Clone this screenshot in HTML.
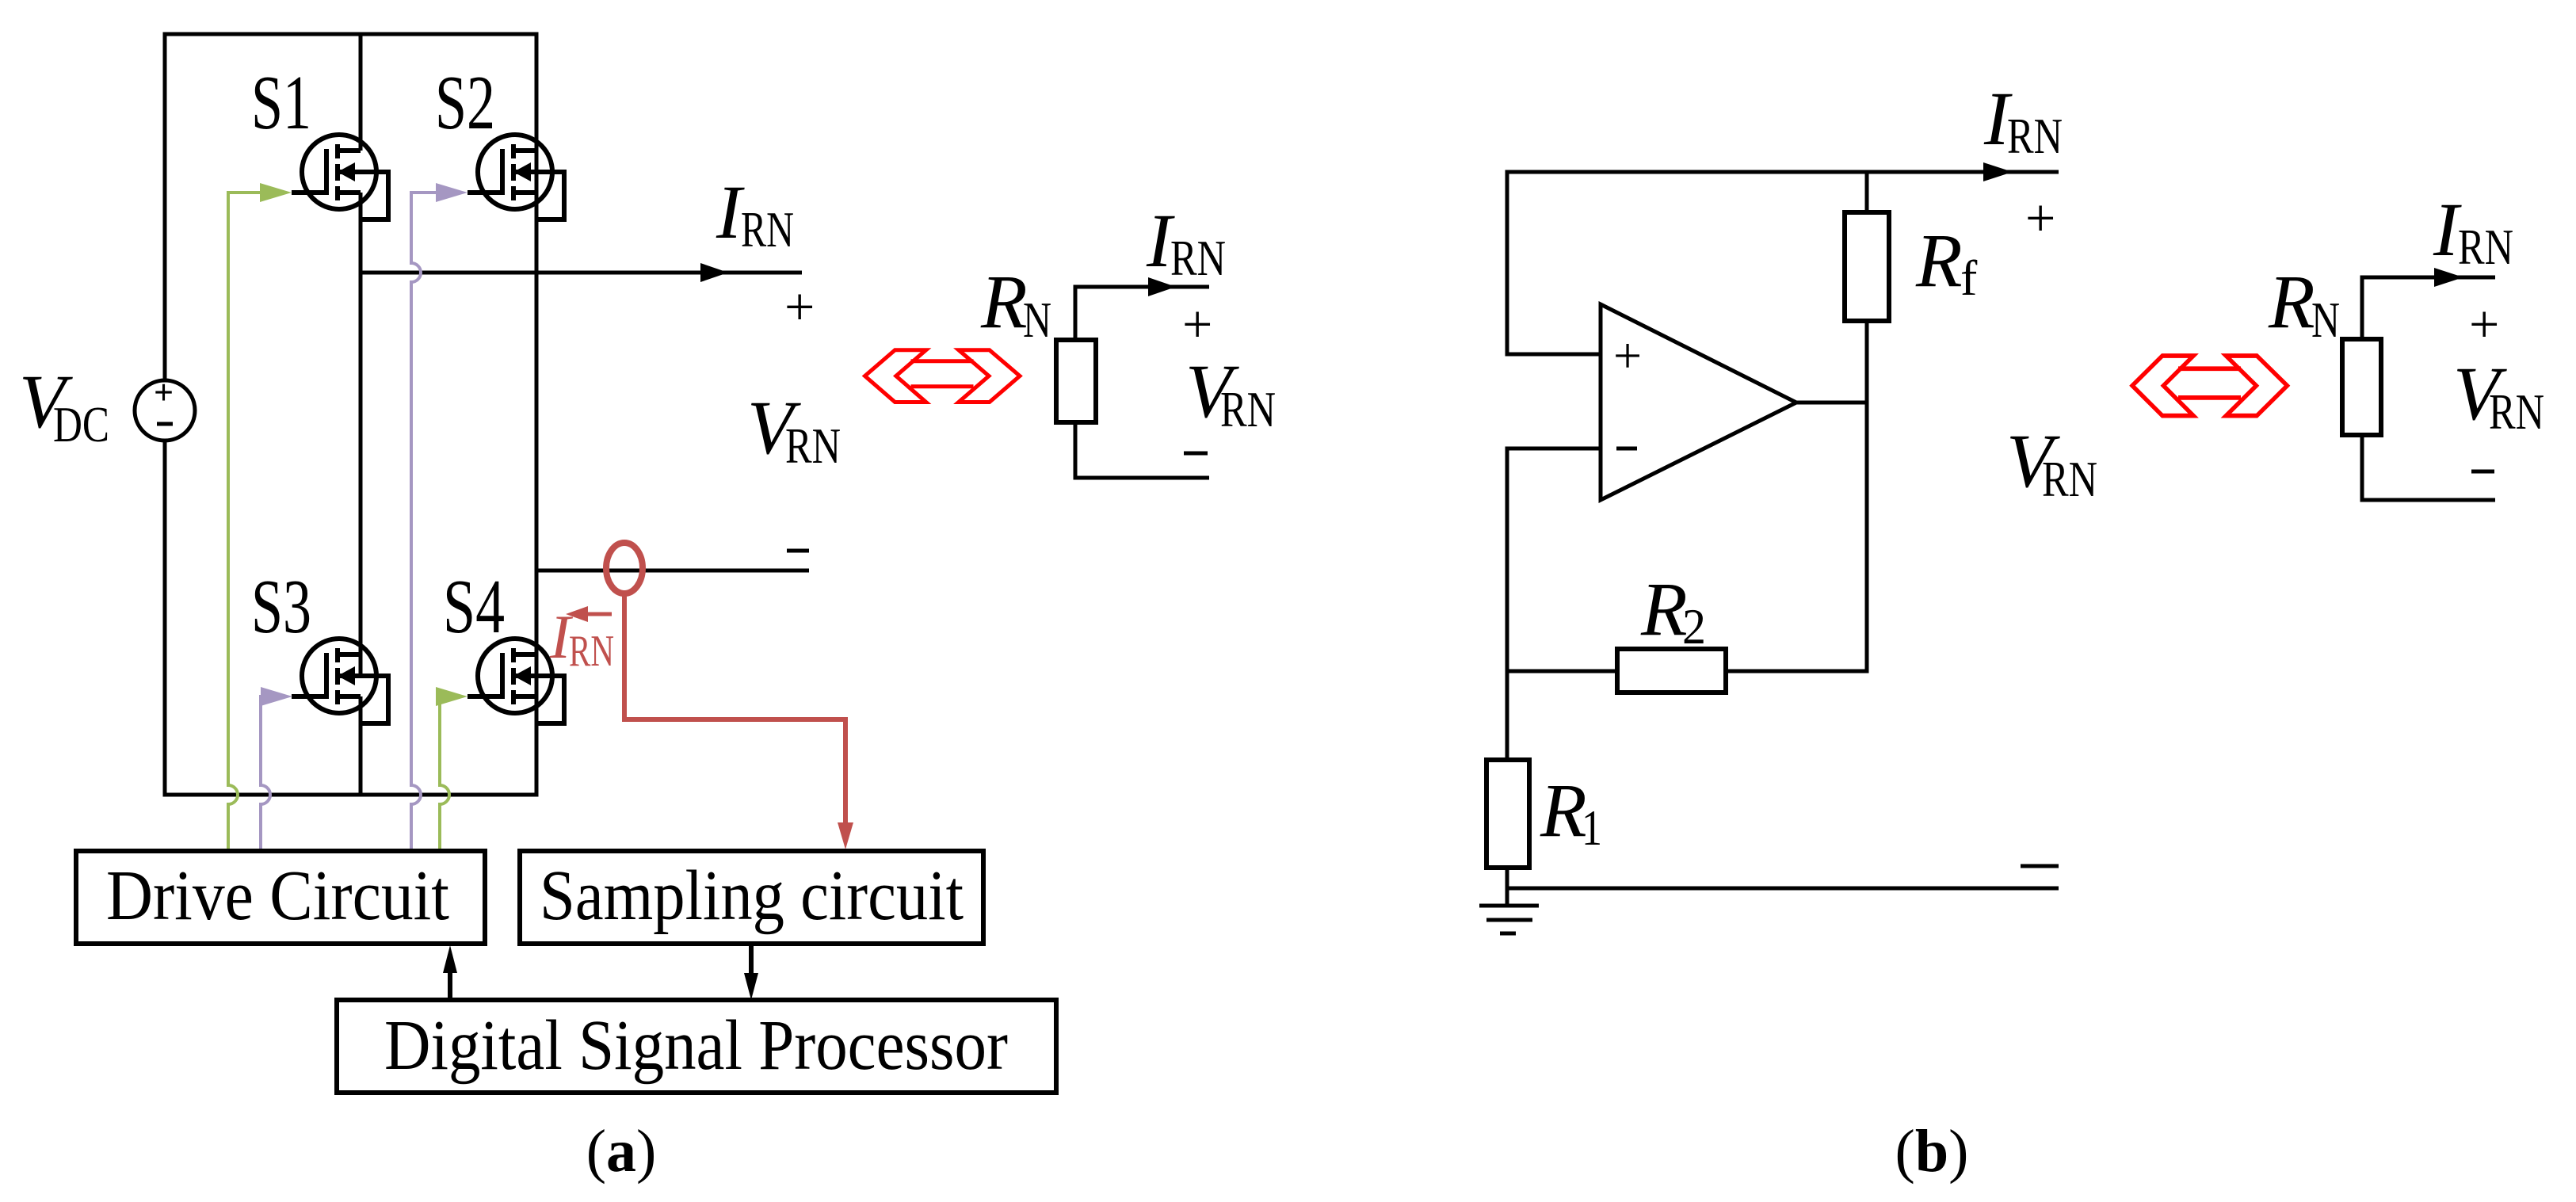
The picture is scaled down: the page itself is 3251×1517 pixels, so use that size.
<!DOCTYPE html>
<html><head><meta charset="utf-8"><style>html,body{margin:0;padding:0;background:#fff}svg{display:block}svg text{font-family:"Liberation Serif",serif}</style></head>
<body>
<svg width="3251" height="1517" viewBox="0 0 3251 1517" xmlns="http://www.w3.org/2000/svg" font-family="'Liberation Serif', serif">
<defs>
<g id="fet">
  <circle cx="0" cy="0" r="47" fill="none" stroke="#000" stroke-width="6"/>
  <path d="M-60,26 H-16 V-29" fill="none" stroke="#000" stroke-width="6"/>
  <path d="M-2,-35 V-17 M-2,-10 V11 M-2,18 V36" stroke="#000" stroke-width="6"/>
  <path d="M-2,-27 H27 M-2,26 H27 M-2,0 H62 V60 H27" fill="none" stroke="#000" stroke-width="6"/>
  <polygon points="-2,0 20,-12 20,12" fill="#000"/>
</g>
<g id="dbl">
  <polygon points="0,32.8 38,0 77.2,0 39.3,32.8 77.2,65.8 38,65.8" fill="none" stroke="#f00" stroke-width="5"/>
  <polygon points="195.5,32.8 157.2,0 118.3,0 156.5,32.8 118.3,65.8 157.2,65.8" fill="none" stroke="#f00" stroke-width="5"/>
  <path d="M58,14.1 H137 M58,46 H137" stroke="#f00" stroke-width="5"/>
</g>
</defs>

<g stroke="#000" stroke-width="5" fill="none">
  <path d="M208,480 V43 H677 V1003 H208 V556"/>
  <path d="M455,43 V190 M455,243 V853 M455,879 V1003"/>
  <path d="M677,190 V43 M677,243 V853 M677,879 V1003"/>
  <circle cx="208" cy="518" r="38"/>
  <path d="M455,344 H1012"/>
  <path d="M677,720 H1021"/>
</g>
<text x="194" y="510" font-size="44" font-weight="bold">+</text>
<path d="M198,535 H218" stroke="#000" stroke-width="5"/>
<polygon points="884,332 919,344 884,356" fill="#000"/>

<use href="#fet" x="428" y="217"/>
<use href="#fet" x="650" y="217"/>
<use href="#fet" x="428" y="853"/>
<use href="#fet" x="650" y="853"/>

<g fill="none" stroke-width="4">
  <path d="M288,1074 V1015 a12,12 0 0 0 0,-24 V243 H330" stroke="#9bbb59"/>
  <path d="M519,1074 V1015 a12,12 0 0 0 0,-24 V356 a12,12 0 0 0 0,-24 V243 H552" stroke="#a597c2"/>
  <path d="M329,1074 V1015 a12,12 0 0 0 0,-24 V879 H332" stroke="#a597c2"/>
  <path d="M555,1074 V1015 a12,12 0 0 0 0,-24 V879 H554" stroke="#9bbb59"/>
</g>
<polygon points="328,231 368,243 328,255" fill="#9bbb59"/>
<polygon points="550,231 590,243 550,255" fill="#a597c2"/>
<polygon points="329,867 369,879 329,891" fill="#a597c2"/>
<polygon points="550,867 590,879 550,891" fill="#9bbb59"/>

<ellipse cx="788" cy="717" rx="23" ry="32" fill="none" stroke="#c0504d" stroke-width="8"/>
<path d="M788,750 V908 H1067 V1040" fill="none" stroke="#c0504d" stroke-width="6"/>
<polygon points="1057,1038 1077,1038 1067,1072" fill="#c0504d"/>
<path d="M772,775 H730" stroke="#c0504d" stroke-width="5"/>
<polygon points="714,775 742,765 742,785" fill="#c0504d"/>
<text x="694" y="830" font-size="78" font-style="italic" fill="#c0504d">I</text>
<text x="718" y="840" font-size="56" fill="#c0504d" textLength="57" lengthAdjust="spacingAndGlyphs">RN</text>

<g font-size="98" fill="#000">
  <text x="317" y="162" textLength="76" lengthAdjust="spacingAndGlyphs">S1</text>
  <text x="549" y="162" textLength="76" lengthAdjust="spacingAndGlyphs">S2</text>
  <text x="317" y="798" textLength="76" lengthAdjust="spacingAndGlyphs">S3</text>
  <text x="559" y="798" textLength="78" lengthAdjust="spacingAndGlyphs">S4</text>
</g>
<text x="24" y="539" font-size="96" font-style="italic">V</text><text x="67" y="557" font-size="64" textLength="71" lengthAdjust="spacingAndGlyphs">DC</text>
<text x="904" y="300" font-size="96" font-style="italic">I</text><text x="935" y="311" font-size="64" textLength="67" lengthAdjust="spacingAndGlyphs">RN</text>
<text x="943" y="572" font-size="96" font-style="italic">V</text><text x="991" y="584" font-size="64" textLength="70" lengthAdjust="spacingAndGlyphs">RN</text>
<text x="990" y="410" font-size="68">+</text>
<path d="M993,695 H1021" stroke="#000" stroke-width="5"/>

<use href="#dbl" x="1091.5" y="441.7"/>
<g stroke="#000" stroke-width="5" fill="none">
  <path d="M1526,362 H1357 V429 M1357,533 V603 H1526"/>
  <rect x="1333" y="429" width="50" height="104" stroke-width="6"/>
</g>
<polygon points="1449,350 1484,362 1449,374" fill="#000"/>
<text x="1238" y="413" font-size="96" font-style="italic">R</text><text x="1291" y="425" font-size="64" textLength="36" lengthAdjust="spacingAndGlyphs">N</text>
<text x="1447" y="336" font-size="96" font-style="italic">I</text><text x="1477" y="347" font-size="64" textLength="70" lengthAdjust="spacingAndGlyphs">RN</text>
<text x="1492" y="432" font-size="68">+</text>
<text x="1496" y="526" font-size="96" font-style="italic">V</text><text x="1540" y="538" font-size="64" textLength="70" lengthAdjust="spacingAndGlyphs">RN</text>
<path d="M1494,572 H1524" stroke="#000" stroke-width="5"/>

<g fill="none" stroke="#000" stroke-width="6">
  <rect x="96" y="1074" width="516" height="117"/>
  <rect x="656" y="1074" width="585" height="117"/>
  <rect x="425" y="1262" width="908" height="117"/>
  <path d="M568,1262 V1225 M948,1191 V1230"/>
</g>
<polygon points="559,1228 577,1228 568,1193" fill="#000"/>
<polygon points="939,1228 957,1228 948,1262" fill="#000"/>
<text x="134" y="1160" font-size="90" textLength="433" lengthAdjust="spacingAndGlyphs">Drive Circuit</text>
<text x="681" y="1160" font-size="90" textLength="535" lengthAdjust="spacingAndGlyphs">Sampling circuit</text>
<text x="485" y="1349" font-size="90" textLength="787" lengthAdjust="spacingAndGlyphs">Digital Signal Processor</text>
<text x="784" y="1478" font-size="76" text-anchor="middle">(<tspan font-weight="bold">a</tspan>)</text>

<g stroke="#000" stroke-width="5" fill="none">
  <path d="M2598,217 H1902 V447 H2020"/>
  <polygon points="2020,384 2020,631 2267,508"/>
  <path d="M2267,508 H2356"/>
  <path d="M2356,217 V268 M2356,405 V847 H2178 M2041,847 H1902"/>
  <path d="M2020,566 H1902 V959 M1902,1095 V1143"/>
  <path d="M1902,1121 H2598"/>
  <rect x="2328" y="268" width="56" height="137" stroke-width="6"/>
  <rect x="2041" y="819" width="137" height="55" stroke-width="6"/>
  <rect x="1876" y="959" width="54" height="136" stroke-width="6"/>
  <path d="M1867,1143 H1942 M1876,1161 H1934 M1893,1178 H1913"/>
</g>
<polygon points="2503,205 2540,217 2503,229" fill="#000"/>
<text x="2036" y="470" font-size="64">+</text>
<path d="M2040,566 H2066" stroke="#000" stroke-width="5"/>
<text x="2504" y="182" font-size="96" font-style="italic">I</text><text x="2533" y="193" font-size="64" textLength="70" lengthAdjust="spacingAndGlyphs">RN</text>
<text x="2556" y="298" font-size="68">+</text>
<text x="2418" y="361" font-size="96" font-style="italic">R</text><text x="2474" y="372" font-size="64">f</text>
<text x="2071" y="801" font-size="96" font-style="italic">R</text><text x="2123" y="812" font-size="64" textLength="30" lengthAdjust="spacingAndGlyphs">2</text>
<text x="1944" y="1055" font-size="96" font-style="italic">R</text><text x="1996" y="1066" font-size="64" textLength="26" lengthAdjust="spacingAndGlyphs">1</text>
<text x="2532" y="614" font-size="96" font-style="italic">V</text><text x="2577" y="626" font-size="64" textLength="70" lengthAdjust="spacingAndGlyphs">RN</text>
<path d="M2550,1093 H2598" stroke="#000" stroke-width="5"/>

<use href="#dbl" transform="translate(2691,449) scale(1,1.15)"/>
<g stroke="#000" stroke-width="5" fill="none">
  <path d="M3149,350 H2981 V428 M2981,549 V631 H3149"/>
  <rect x="2956" y="428" width="49" height="121" stroke-width="6"/>
</g>
<polygon points="3072,338 3109,350 3072,362" fill="#000"/>
<text x="2863" y="413" font-size="96" font-style="italic">R</text><text x="2917" y="425" font-size="64" textLength="36" lengthAdjust="spacingAndGlyphs">N</text>
<text x="3071" y="322" font-size="96" font-style="italic">I</text><text x="3102" y="333" font-size="64" textLength="70" lengthAdjust="spacingAndGlyphs">RN</text>
<text x="3116" y="432" font-size="68">+</text>
<text x="3096" y="529" font-size="96" font-style="italic">V</text><text x="3141" y="541" font-size="64" textLength="70" lengthAdjust="spacingAndGlyphs">RN</text>
<path d="M3119,595 H3148" stroke="#000" stroke-width="5"/>
<text x="2438" y="1478" font-size="76" text-anchor="middle">(<tspan font-weight="bold">b</tspan>)</text>
</svg>
</body></html>
